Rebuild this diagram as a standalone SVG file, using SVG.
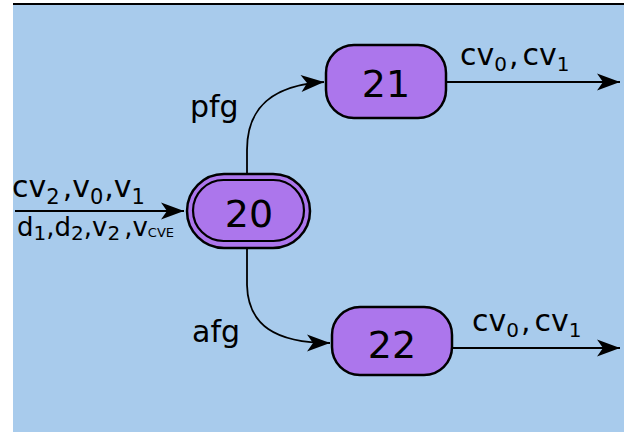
<svg xmlns="http://www.w3.org/2000/svg" width="624" height="432" viewBox="0 0 624 432">
<defs>
<style>
.t{font-family:"DejaVu Sans","Verdana",sans-serif;fill:#000}
.node{fill:#ac76ec;stroke:#000;stroke-width:2.5}
.edge{fill:none;stroke:#000;stroke-width:1.8}
</style>
<marker id="ah" markerUnits="userSpaceOnUse" markerWidth="30" markerHeight="20" viewBox="-24 -10 26 20" refX="0" refY="0" orient="auto">
<path d="M0,0 L-23,-8.5 L-17,0 L-23,8.5 Z" fill="#000"/>
</marker>
</defs>
<rect x="13" y="4" width="611" height="428" fill="#a8cbec"/>
<line x1="13" y1="4" x2="624" y2="4" stroke="#000" stroke-width="2"/>
<g id="edges">
<path class="edge" d="M15,211 H184" marker-end="url(#ah)"/>
<path class="edge" d="M247,174 V150 C247,105 275,85 324,82" marker-end="url(#ah)"/>
<path class="edge" d="M247,248 V285 C248,325 275,343 330,343" marker-end="url(#ah)"/>
<path class="edge" d="M447,82 H620" marker-end="url(#ah)"/>
<path class="edge" d="M452,348 H620" marker-end="url(#ah)"/>
</g>
<g id="n20">
<rect class="node" x="187" y="174" width="123" height="74" rx="37"/>
<rect x="193" y="180" width="111" height="61" rx="30.5" fill="none" stroke="#000" stroke-width="2.2"/>
<text class="t" x="249" y="227" font-size="38" text-anchor="middle">20</text>
</g>
<g id="n21">
<rect class="node" x="326" y="45" width="120" height="73" rx="28"/>
<text class="t" x="386" y="97" font-size="38" text-anchor="middle">21</text>
</g>
<g id="n22">
<rect class="node" x="332" y="307" width="120" height="68" rx="28"/>
<text class="t" x="392" y="358" font-size="38" text-anchor="middle">22</text>
</g>
<g id="labels">
<text class="t" x="12" y="197" font-size="30">cv<tspan font-size="21" dy="7">2</tspan><tspan dx="3" dy="-7">,v</tspan><tspan font-size="21" dy="7">0</tspan><tspan dx="1" dy="-7">,v</tspan><tspan font-size="21" dy="7">1</tspan></text>
<text class="t" x="17" y="236" font-size="26">d<tspan font-size="20" dy="4">1</tspan><tspan dy="-4">,d</tspan><tspan font-size="20" dy="4">2</tspan><tspan dy="-4">,v</tspan><tspan font-size="20" dy="4">2</tspan><tspan dx="4" dy="-4">,v</tspan><tspan font-size="13" dy="1">CVE</tspan></text>
<text class="t" x="190" y="117" font-size="30">pfg</text>
<text class="t" x="192" y="342" font-size="30">afg</text>
<text class="t" x="460" y="65" font-size="30">cv<tspan font-size="20" dy="6">0</tspan><tspan dx="2" dy="-6">,</tspan><tspan dx="4">cv</tspan><tspan font-size="20" dy="6">1</tspan></text>
<text class="t" x="472" y="331" font-size="30">cv<tspan font-size="20" dy="6">0</tspan><tspan dx="2" dy="-6">,</tspan><tspan dx="4">cv</tspan><tspan font-size="20" dy="6">1</tspan></text>
</g>
</svg>
